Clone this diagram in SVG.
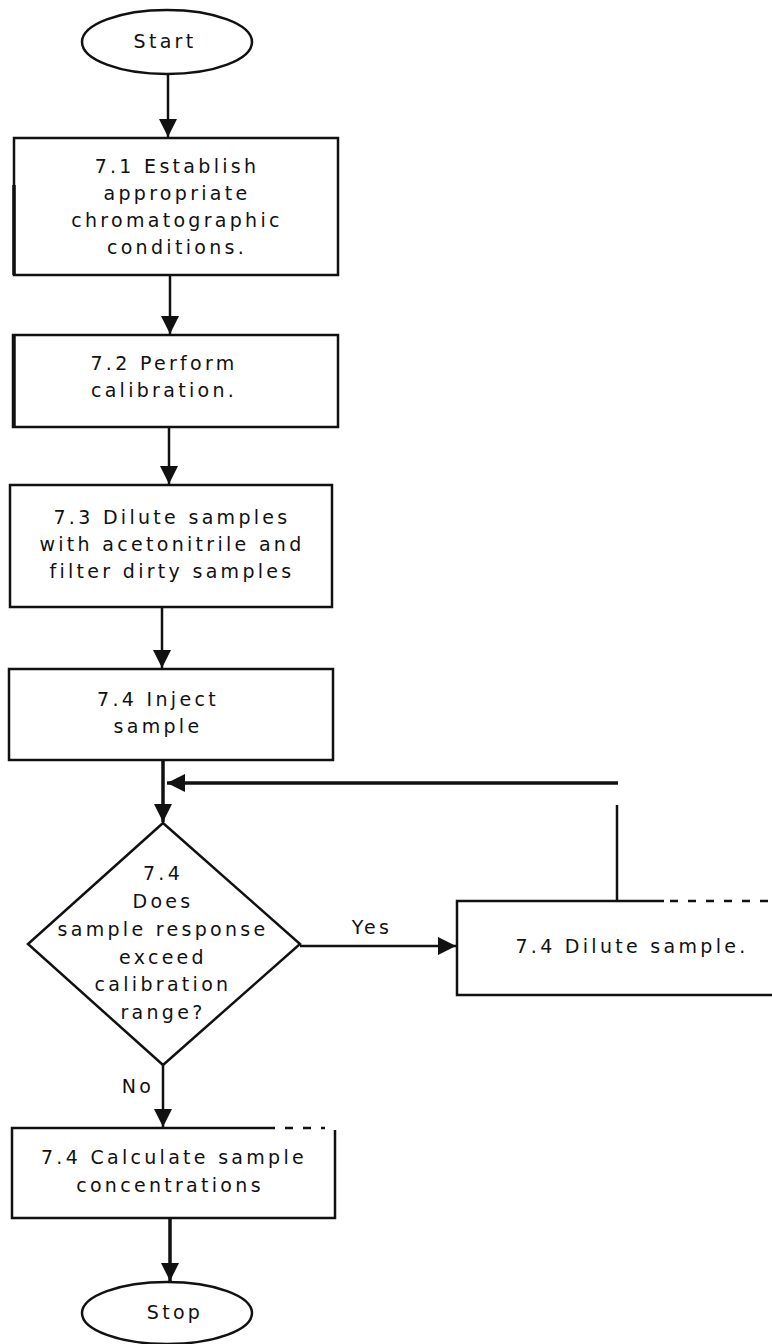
<svg xmlns="http://www.w3.org/2000/svg" width="772" height="1344" viewBox="0 0 772 1344">
<style>
text{font-family:"DejaVu Sans","Liberation Sans",sans-serif;font-size:19px;letter-spacing:3.3px;fill:#111;text-anchor:middle}
.shape{fill:#fff;stroke:#111;stroke-width:2.5}
.open{fill:none;stroke:#111;stroke-width:2.5}
.conn{fill:none;stroke:#111;stroke-width:2.5}
.thick{stroke-width:3.5}
.dash{fill:none;stroke:#111;stroke-width:2.5;stroke-dasharray:8 10}
</style>
<defs>
<marker id="arr" markerUnits="userSpaceOnUse" markerWidth="18" markerHeight="18" viewBox="0 0 18 18" refX="18" refY="9" orient="auto">
<path d="M0,0 L18,9 L0,18 z" fill="#111"/>
</marker>
</defs>
<g id="connectors">
<line class="conn" x1="168" y1="75" x2="168" y2="137" marker-end="url(#arr)"/>
<line class="conn" x1="170" y1="275" x2="170" y2="334" marker-end="url(#arr)"/>
<line class="conn" x1="169" y1="427" x2="169" y2="484" marker-end="url(#arr)"/>
<line class="conn" x1="162" y1="607" x2="162" y2="668" marker-end="url(#arr)"/>
<line class="conn thick" x1="163" y1="760" x2="163" y2="822" marker-end="url(#arr)"/>
<line class="conn thick" x1="618" y1="783" x2="167" y2="783" marker-end="url(#arr)"/>
<line class="conn" x1="617" y1="805" x2="617" y2="901"/>
<line class="conn" x1="300" y1="946" x2="456" y2="946" marker-end="url(#arr)"/>
<line class="conn" x1="163" y1="1065" x2="163" y2="1127" marker-end="url(#arr)"/>
<line class="conn thick" x1="170" y1="1218" x2="170" y2="1281" marker-end="url(#arr)"/>
<text x="372" y="934">Yes</text>
<text x="138" y="1093">No</text>
</g>
<g id="start">
<ellipse class="shape" cx="167" cy="42" rx="85" ry="32"/>
<text x="165" y="48">Start</text>
</g>
<g id="step71">
<rect class="shape" x="14" y="138" width="324" height="137"/>
<line class="conn thick" x1="14" y1="185" x2="14" y2="275"/>
<text x="177" y="173">7.1 Establish</text>
<text x="177" y="200">appropriate</text>
<text x="177" y="227">chromatographic</text>
<text x="177" y="254">conditions.</text>
</g>
<g id="step72">
<rect class="shape" x="13" y="335" width="325" height="92"/>
<line class="conn thick" x1="14" y1="335" x2="14" y2="427"/>
<text x="164" y="370">7.2 Perform</text>
<text x="164" y="397">calibration.</text>
</g>
<g id="step73">
<rect class="shape" x="10" y="485" width="322" height="122"/>
<text x="172" y="524">7.3 Dilute samples</text>
<text x="172" y="551">with acetonitrile and</text>
<text x="172" y="578">filter dirty samples</text>
</g>
<g id="inject">
<rect class="shape" x="9" y="669" width="324" height="91"/>
<text x="158" y="706">7.4 Inject</text>
<text x="158" y="733">sample</text>
</g>
<g id="decision">
<polygon class="shape" points="163,823 300,944 163,1065 28,944"/>
<text x="163" y="880">7.4</text>
<text x="163" y="908">Does</text>
<text x="163" y="936">sample response</text>
<text x="163" y="964">exceed</text>
<text x="163" y="991">calibration</text>
<text x="163" y="1019">range?</text>
</g>
<g id="dilute">
<path class="open" d="M772,995 H457 V901 H664"/>
<line class="dash" x1="670" y1="901" x2="772" y2="901" stroke-dasharray="6 12"/>
<text x="632" y="953">7.4 Dilute sample.</text>
</g>
<g id="calculate">
<path class="open" d="M275,1128 H12 V1218 H335 V1130"/>
<line class="dash" x1="285" y1="1128" x2="325" y2="1128" stroke-dasharray="8 10"/>
<text x="174" y="1164">7.4 Calculate sample</text>
<text x="170" y="1192">concentrations</text>
</g>
<g id="stop">
<ellipse class="shape" cx="167" cy="1313" rx="85" ry="31"/>
<text x="175" y="1319">Stop</text>
</g>
</svg>
